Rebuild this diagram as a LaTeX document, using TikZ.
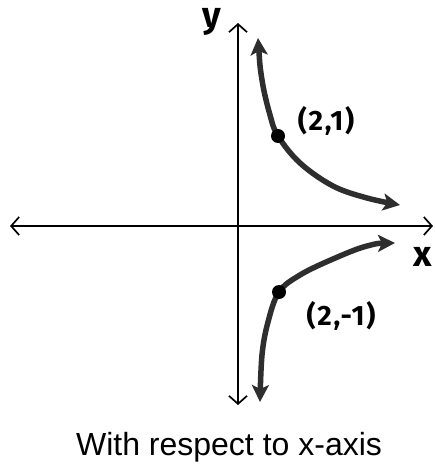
\documentclass[tikz,border=0pt]{standalone}
\usepackage{fontspec}
\setmainfont{Liberation Sans}
\newfontfamily\handfont[LetterSpace=6]{Fira Sans}
\usepackage{tikz}
\usetikzlibrary{arrows.meta}

\begin{document}
\begin{tikzpicture}[x=1pt,y=-1pt,>=Stealth,
  axis/.style={line width=1.7pt,{Straight Barb[length=8pt,width=18pt,line width=1.7pt]}-{Straight Barb[length=8pt,width=18pt,line width=1.7pt]}},
  branch/.style={line width=5.5pt,draw=black!82,line cap=round,{Stealth[length=17pt,width=17pt,inset=4pt]}-{Stealth[length=17pt,width=17pt,inset=4pt]}},
  dot/.style={circle,fill=black,inner sep=0pt,minimum size=14pt},
  lbl/.style={font=\handfont\bfseries\fontsize{28}{28}\selectfont},
  axlbl/.style={font=\handfont\bfseries\fontsize{36}{36}\selectfont,anchor=base}]
\useasboundingbox (0,0) rectangle (435,470);
% axes
\coordinate (xl) at (10,226); \coordinate (xr) at (433,226);
\coordinate (yt) at (238,23); \coordinate (yb) at (238,405);
\draw[axis] (xl)--(xr);
\draw[axis] (yb)--(yt);
\node[axlbl] (xlab) at (423,266) {x};
\node[axlbl] (ylab) at (212,28) {y};
% the two branches
\coordinate (p) at (278,136);
\coordinate (q) at (279,292);
\draw[branch] plot[smooth,tension=0.6] coordinates {(258,38) (262,80) (270,115) (p) (300,163) (333,186) (367,198) (400,205)};
\draw[branch] plot[smooth,tension=0.6] coordinates {(395,243) (367,246) (333,259) (300,275) (q) (268,322) (262,355) (260,402)};
\node[dot] (pdot) at (p) {};
\node[dot] (qdot) at (q) {};
\node[lbl] (plab) at (326,121) {(2,1)};
\node[lbl] (qlab) at (341,316) {(2,-1)};
\node[font=\fontsize{32}{32}\selectfont] (cap) at (229,447) {With respect to x-axis};
\end{tikzpicture}
\end{document}
